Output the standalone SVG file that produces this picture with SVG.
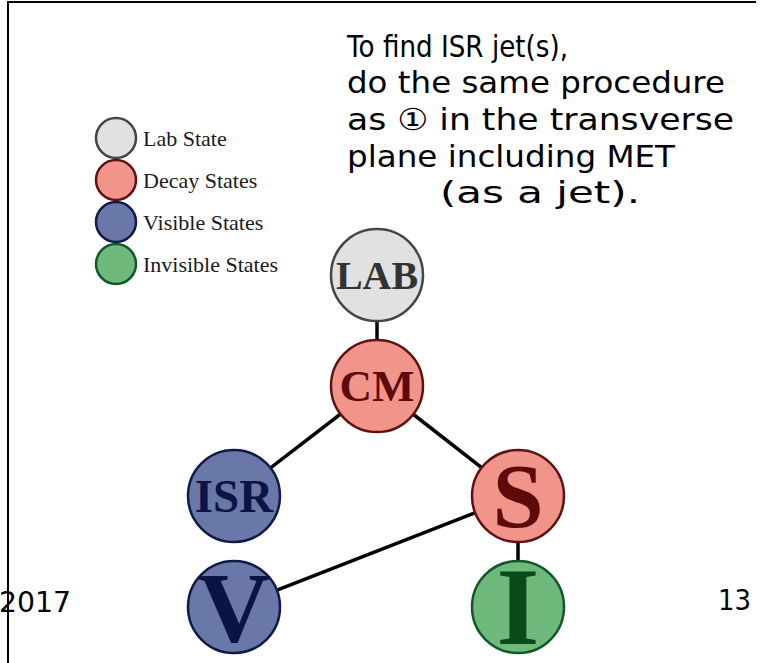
<svg xmlns="http://www.w3.org/2000/svg" width="760" height="663" viewBox="0 0 760 663">
  <style>
    .frame { stroke: #000; stroke-width: 2; fill: none; }
    .edge { stroke: #000; stroke-width: 3.5; fill: none; }
    .lab { fill: #e1e1e1; stroke: #454545; stroke-width: 2.5; }
    .decay { fill: #f1958b; stroke: #5e1212; stroke-width: 2.5; }
    .vis { fill: #6a77a9; stroke: #0f1a47; stroke-width: 2.5; }
    .inv { fill: #6fb97c; stroke: #12572a; stroke-width: 2.5; }
    .nt { font-family: "Liberation Serif", "Times New Roman", serif; font-weight: bold; text-anchor: middle; }
    .lg { font-family: "Liberation Serif", "Times New Roman", serif; font-size: 22px; fill: #1a1a1a; }
    .body { font-family: "DejaVu Sans", Verdana, sans-serif; font-size: 30px; fill: #000; }
    .foot { font-family: "DejaVu Sans", Verdana, sans-serif; font-size: 28px; fill: #000; }
  </style>

  <rect width="760" height="663" fill="#fff"/>

  <!-- slide frame -->
  <path class="frame" d="M8,663 V2 H756"/>

  <!-- explanatory text -->
  <g id="note">
    <text class="body" x="347" y="57" textLength="221" lengthAdjust="spacingAndGlyphs">To find ISR jet(s),</text>
    <text class="body" x="347" y="93" textLength="378" lengthAdjust="spacingAndGlyphs">do the same procedure</text>
    <text class="body" x="347" y="130" textLength="387" lengthAdjust="spacingAndGlyphs">as ① in the transverse</text>
    <text class="body" x="347" y="167" textLength="328" lengthAdjust="spacingAndGlyphs">plane including MET</text>
    <text class="body" x="440" y="203" textLength="200" lengthAdjust="spacingAndGlyphs">(as a jet).</text>
  </g>

  <!-- legend -->
  <g id="legend">
    <circle class="lab" cx="116" cy="138" r="20"/>
    <text class="lg" x="143" y="146">Lab State</text>
    <circle class="decay" cx="116" cy="180" r="20"/>
    <text class="lg" x="143" y="188">Decay States</text>
    <circle class="vis" cx="116" cy="222" r="20"/>
    <text class="lg" x="143" y="230">Visible States</text>
    <circle class="inv" cx="116" cy="264" r="20"/>
    <text class="lg" x="143" y="272">Invisible States</text>
  </g>

  <!-- connectors -->
  <g id="edges">
    <line class="edge" x1="377" y1="320" x2="377" y2="342"/>
    <line class="edge" x1="377" y1="386" x2="234" y2="496"/>
    <line class="edge" x1="377" y1="386" x2="518" y2="496"/>
    <line class="edge" x1="518" y1="496" x2="234" y2="607"/>
    <line class="edge" x1="518" y1="496" x2="518" y2="607"/>
  </g>

  <!-- tree nodes -->
  <g id="node-lab">
    <circle class="lab" cx="377" cy="275" r="46"/>
    <text class="nt" x="377" y="289" font-size="40" fill="#333">LAB</text>
  </g>
  <g id="node-cm">
    <circle class="decay" cx="377" cy="386" r="46"/>
    <text class="nt" x="377" y="401" font-size="45" fill="#5e0a0a">CM</text>
  </g>
  <g id="node-isr">
    <circle class="vis" cx="234" cy="496" r="46"/>
    <text class="nt" x="234" y="512" font-size="47" fill="#0b1545">ISR</text>
  </g>
  <g id="node-s">
    <circle class="decay" cx="518" cy="496" r="46"/>
    <text class="nt" x="518" y="527" font-size="92" fill="#5e0a0a">S</text>
  </g>
  <g id="node-v">
    <circle class="vis" cx="234" cy="607" r="46"/>
    <text class="nt" x="234" y="641" font-size="100" fill="#0b1545">V</text>
  </g>
  <g id="node-i">
    <circle class="inv" cx="518" cy="607" r="46"/>
    <text class="nt" x="518" y="644" font-size="110" fill="#0a4a18">I</text>
  </g>

  <!-- footer -->
  <text class="foot" x="-1" y="612" textLength="72" lengthAdjust="spacingAndGlyphs">2017</text>
  <text class="foot" x="718" y="610" textLength="33" lengthAdjust="spacingAndGlyphs">13</text>
</svg>
